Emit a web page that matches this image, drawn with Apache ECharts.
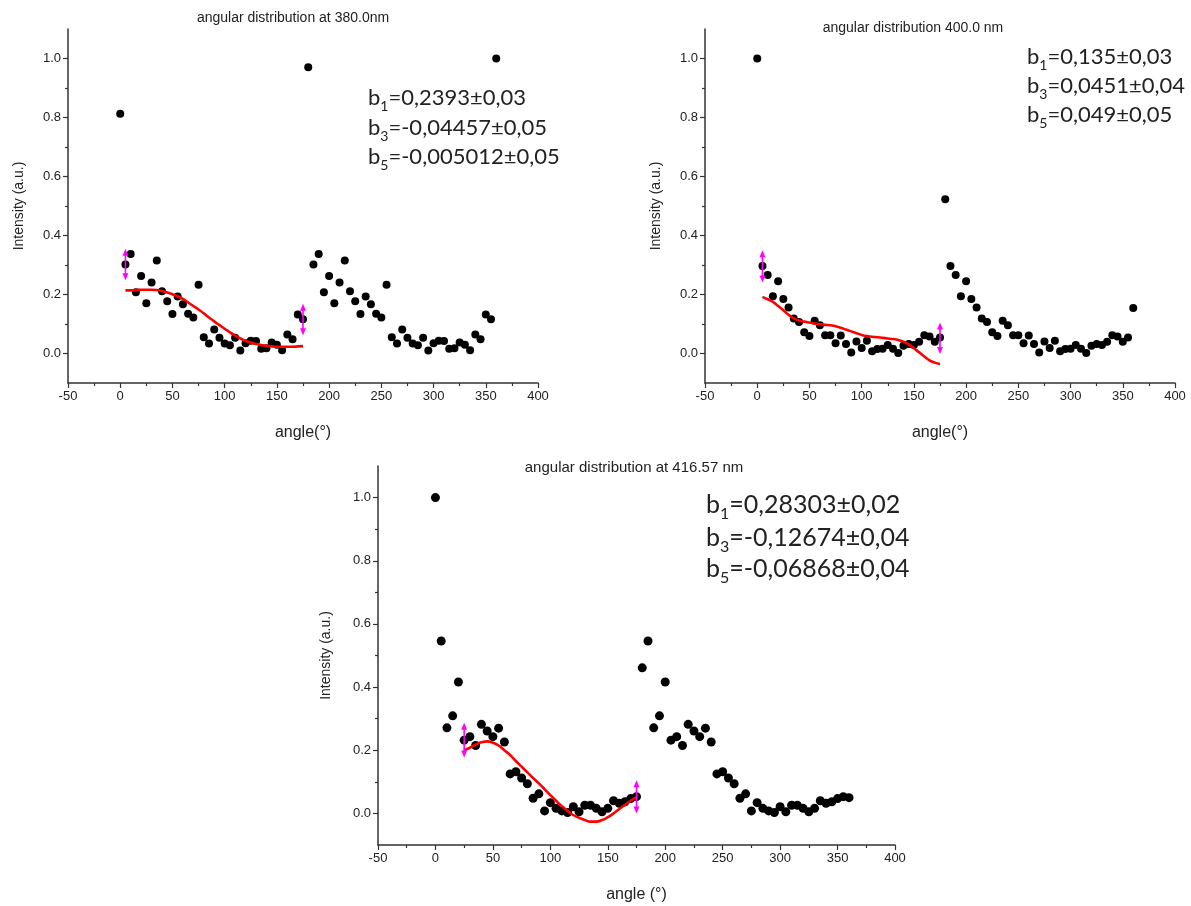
<!DOCTYPE html>
<html><head><meta charset="utf-8">
<script src="https://cdn.jsdelivr.net/npm/echarts@6/dist/echarts.min.js"></script>
<style>html,body{margin:0;padding:0;background:#fff}#c{width:1191px;height:906px}</style>
</head><body><div id="c"></div>
<script>
const angles = [0,5,10,15,20,25,30,35,40,45,50,55,60,65,70,75,80,85,90,95,100,105,110,115,120,125,130,135,140,145,150,155,160,165,170,175,
  180,185,190,195,200,205,210,215,220,225,230,235,240,245,250,255,260,265,270,275,280,285,290,295,300,305,310,315,320,325,330,335,340,345,350,355,360];

const int380 = [0.813,0.302,0.337,0.208,0.263,0.170,0.241,0.315,0.211,0.177,0.134,0.193,0.167,0.135,0.122,0.233,0.055,0.034,0.081,0.053,0.034,0.028,0.053,0.010,0.035,0.043,0.042,0.016,0.018,0.037,0.030,0.011,0.064,0.048,0.132,0.116,
  0.970,0.302,0.337,0.208,0.263,0.170,0.241,0.315,0.211,0.177,0.134,0.193,0.167,0.135,0.122,0.233,0.055,0.034,0.081,0.053,0.034,0.028,0.053,0.010,0.035,0.043,0.042,0.016,0.018,0.037,0.030,0.011,0.064,0.048,0.132,0.116,
  1.000];
const int400 = [1.000,0.297,0.266,0.194,0.245,0.185,0.156,0.119,0.107,0.072,0.059,0.111,0.096,0.062,0.062,0.035,0.061,0.032,0.003,0.041,0.019,0.043,0.008,0.015,0.016,0.029,0.016,0.002,0.026,0.032,0.029,0.040,0.062,0.058,0.040,0.054,
  0.523,0.297,0.266,0.194,0.245,0.185,0.156,0.119,0.107,0.072,0.059,0.111,0.096,0.062,0.062,0.035,0.061,0.032,0.003,0.041,0.019,0.043,0.008,0.015,0.016,0.029,0.016,0.002,0.026,0.032,0.029,0.040,0.062,0.058,0.040,0.054,
  0.154];
const int416 = [1.000,0.546,0.271,0.309,0.416,0.232,0.243,0.215,0.282,0.261,0.243,0.270,0.226,0.125,0.132,0.112,0.094,0.048,0.062,0.008,0.034,0.016,0.008,0.003,0.021,0.005,0.026,0.026,0.016,0.005,0.016,0.040,0.032,0.037,0.047,0.053,
  0.461,0.546,0.271,0.309,0.416,0.232,0.243,0.215,0.282,0.261,0.243,0.270,0.226,0.125,0.132,0.112,0.094,0.048,0.062,0.008,0.034,0.016,0.008,0.003,0.021,0.005,0.026,0.026,0.016,0.005,0.016,0.040,0.032,0.037,0.047,0.053,
  0.050];

const fitAngles = [5,10,15,20,25,30,35,40,45,50,55,60,65,70,75,80,85,90,95,100,105,110,115,120,125,130,135,140,145,150,155,160,165,170,175];
const fit380 = [0.214,0.214,0.215,0.216,0.216,0.216,0.215,0.212,0.207,0.201,0.194,0.185,0.173,0.161,0.149,0.136,0.122,0.109,0.096,0.084,
  0.072,0.061,0.051,0.043,0.037,0.032,0.029,0.026,0.024,0.023,0.023,0.023,0.023,0.024,0.025];
const fit400 = [0.192,0.184,0.175,0.161,0.147,0.131,0.119,0.112,0.108,0.105,0.102,0.099,0.097,0.096,0.092,0.087,0.081,0.075,0.069,0.063,
  0.059,0.057,0.055,0.053,0.051,0.049,0.046,0.040,0.031,0.018,0.004,-0.010,-0.023,-0.031,-0.036];
const fitAngles416 = [25,30,35,40,45,50,55,60,65,70,75,80,85,90,95,100,105,110,115,120,125,130,135,140,145,150,155,160,165,170,175];
const fit416 = [0.200,0.208,0.218,0.225,0.228,0.224,0.215,0.200,0.185,0.166,0.148,0.130,0.112,0.095,0.077,0.058,0.040,0.023,0.008,-0.005,
  -0.014,-0.021,-0.026,-0.026,-0.021,-0.012,0.000,0.014,0.027,0.040,0.052];

// error bars: [angle, low, high]
const err380 = [[5,0.248,0.355],[175,0.062,0.169]];
const err400 = [[5,0.241,0.350],[175,-0.002,0.105]];
const err416 = [[25,0.177,0.287],[175,0.000,0.105]];

const xTicks = [-50,0,50,100,150,200,250,300,350,400];
const yTicks = [0,0.2,0.4,0.6,0.8,1.0];
const yMinorTicks = [0.1,0.3,0.5,0.7,0.9];

const titles = ['angular distribution at 380.0nm','angular distribution 400.0 nm','angular distribution at 416.57 nm'];
const xNames = ['angle(°)','angle(°)','angle (°)'];
const yName = 'Intensity (a.u.)';
const coefSubs = ['1','3','5'];
const coef380 = ['=0,2393±0,03','=-0,04457±0,05','=-0,005012±0,05'];
const coef400 = ['=0,135±0,03','=0,0451±0,04','=0,049±0,05'];
const coef416 = ['=0,28303±0,02','=-0,12674±0,04','=-0,06868±0,04'];

const panels = [
  {grid:{left:68,top:29,width:470,height:354}, ints:int380, fa:fitAngles, fit:fit380, err:err380, sym:8,
   title:{x:293,y:11}, coef:coef380, coefPos:{x:368,y:[98,128,157]}, coefSize:22, xGap:42, yGap:42},
  {grid:{left:705,top:29,width:470,height:354}, ints:int400, fa:fitAngles, fit:fit400, err:err400, sym:8,
   title:{x:913,y:21}, coef:coef400, coefPos:{x:1027,y:[57,86,115]}, coefSize:22, xGap:42, yGap:42},
  {grid:{left:378,top:466,width:517,height:379}, ints:int416, fa:fitAngles416, fit:fit416, err:err416, sym:9,
   title:{x:634,y:460}, coef:coef416, coefPos:{x:706,y:[505,538,569]}, coefSize:25, xGap:42, yGap:45}
];

const axisFont = 'Liberation Sans, Arial, sans-serif';
const grids = [], xAxes = [], yAxes = [], series = [], graphics = [];

panels.forEach((p, i) => {
  grids.push(Object.assign({containLabel:false}, p.grid));
  xAxes.push({
    type:'value', gridIndex:i, min:-50, max:400, interval:50,
    name:xNames[i], nameLocation:'middle', nameGap:p.xGap,
    nameTextStyle:{fontFamily:axisFont, fontSize:16, color:'#222'},
    axisLine:{show:true, onZero:false, lineStyle:{color:'#333', width:1.5}},
    axisTick:{show:true, inside:false, length:5, lineStyle:{color:'#333', width:1.2}, customValues:xTicks},
    minorTick:{show:true, splitNumber:2, length:3, lineStyle:{color:'#333', width:1.2}},
    axisLabel:{fontFamily:axisFont, fontSize:13, color:'#222', margin:7, customValues:xTicks},
    splitLine:{show:false}
  });
  yAxes.push({
    type:'value', gridIndex:i, min:-0.1, max:1.1, interval:0.1, position:'left',
    name:yName, nameLocation:'middle', nameGap:p.yGap, nameRotate:90,
    nameTextStyle:{fontFamily:axisFont, fontSize:14, color:'#222'},
    axisLine:{show:true, onZero:false, lineStyle:{color:'#333', width:1.5}},
    axisTick:{show:true, inside:false, length:5, lineStyle:{color:'#333', width:1.2}, customValues:yTicks},
    axisLabel:{fontFamily:axisFont, fontSize:13, color:'#222', margin:7, customValues:yTicks,
      formatter:v => Number(v).toFixed(1)},
    splitLine:{show:false}
  });
  yAxes.push({
    type:'value', gridIndex:i, min:-0.1, max:1.1, interval:0.1, position:'left', offset:0,
    axisLine:{show:false, onZero:false},
    axisTick:{show:true, inside:false, length:3, lineStyle:{color:'#333', width:1.2}, customValues:yMinorTicks},
    axisLabel:{show:false}, splitLine:{show:false}
  });
  const yIdx = i*2;
  series.push({
    type:'scatter', xAxisIndex:i, yAxisIndex:yIdx, symbol:'circle', symbolSize:p.sym,
    itemStyle:{color:'#000', opacity:1}, z:3, silent:true,
    data: angles.map((a, k) => [a, p.ints[k]])
  });
  series.push({
    type:'line', xAxisIndex:i, yAxisIndex:yIdx, smooth:true, showSymbol:false, z:4, silent:true,
    lineStyle:{color:'#ff0000', width:2.6},
    data: p.fa.map((a, k) => [a, p.fit[k]])
  });
  series.push({
    type:'custom', xAxisIndex:i, yAxisIndex:yIdx, z:5, silent:true,
    data: p.err,
    renderItem:(params, api) => {
      const x = api.value(0), lo = api.value(1), hi = api.value(2);
      const t = api.coord([x, hi]), b = api.coord([x, lo]);
      const w = 3, h = 7;
      return {type:'group', children:[
        {type:'line', shape:{x1:t[0], y1:t[1]+h-1, x2:b[0], y2:b[1]-h+1}, style:{stroke:'#ff00ff', lineWidth:1.6}},
        {type:'polygon', shape:{points:[[t[0],t[1]],[t[0]-w,t[1]+h],[t[0]+w,t[1]+h]]}, style:{fill:'#ff00ff'}},
        {type:'polygon', shape:{points:[[b[0],b[1]],[b[0]-w,b[1]-h],[b[0]+w,b[1]-h]]}, style:{fill:'#ff00ff'}}
      ]};
    }
  });
  graphics.push({
    type:'text', x:p.title.x, y:p.title.y, silent:true,
    style:{text:titles[i], fontFamily:axisFont, fontSize: i===2 ? 15 : 14, fill:'#222', align:'center', verticalAlign:'top'}
  });
  p.coef.forEach((c, k) => {
    graphics.push({
      type:'text', x:p.coefPos.x, y:p.coefPos.y[k], silent:true,
      style:{
        text:'{m|b}{s|' + coefSubs[k] + '}{m|' + c + '}',
        align:'left', verticalAlign:'middle',
        rich:{
          m:{fontFamily:'Lato, Open Sans, sans-serif', fontSize:p.coefSize, fill:'#222', lineHeight:p.coefSize+8},
          s:{fontFamily:'Lato, Open Sans, sans-serif', fontSize:Math.round(p.coefSize*0.62), fill:'#222',
             lineHeight:Math.round(p.coefSize*0.62)+2, verticalAlign:'bottom'}
        }
      }
    });
  });
});

const chart = echarts.init(document.getElementById('c'), null, {renderer:'canvas'});
chart.setOption({
  animation:false,
  backgroundColor:'#fff',
  grid:grids, xAxis:xAxes, yAxis:yAxes, series:series, graphic:graphics
});
</script>
</body></html>
